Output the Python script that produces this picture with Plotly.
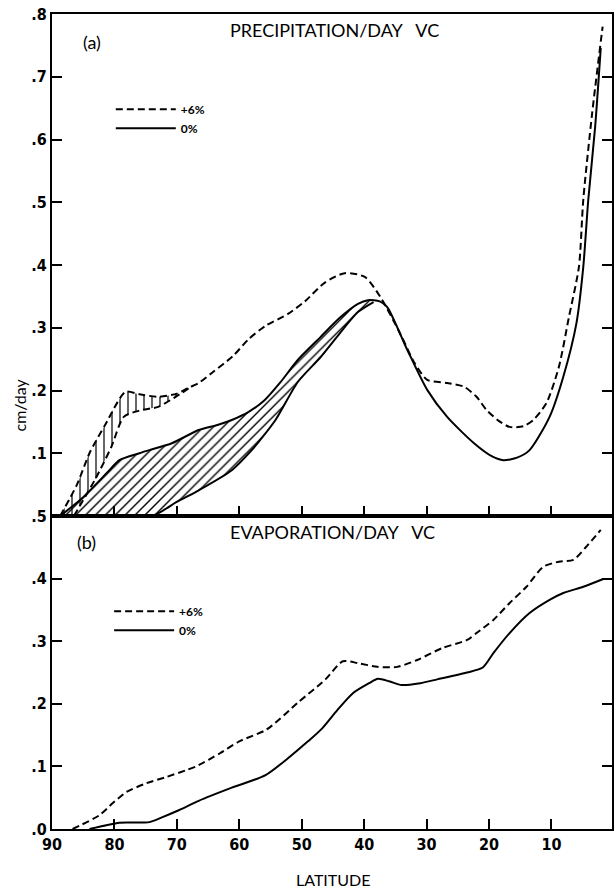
import plotly.graph_objects as go

# ---------------- Precipitation (cm/day) ----------------
P6_LAT = [88.7, 86, 84, 81.5, 78.2, 76, 73, 70, 68, 66.5, 64.4, 61, 58.5, 55.8, 52.2, 49.5,
          46.3, 43.1, 39.9, 37.4, 34.2, 32, 29.9, 26.7, 24, 22, 20.4, 18.5, 16.7, 14.5, 12.9,
          10.8, 8.8, 7.2, 5.6, 4.9, 3.5, 1.8]
P6_VAL = [0.0, 0.05, 0.10, 0.145, 0.198, 0.194, 0.19, 0.195, 0.205, 0.212, 0.228, 0.255, 0.282,
          0.303, 0.322, 0.342, 0.372, 0.387, 0.381, 0.349, 0.29, 0.245, 0.217, 0.212, 0.206,
          0.19, 0.169, 0.152, 0.142, 0.143, 0.153, 0.18, 0.238, 0.317, 0.397, 0.504, 0.64, 0.78]

# lower edge of the +6% range (vertical hatching)
P6_LOW_LAT = [86.5, 83, 80.5, 78.5, 76, 73, 70.5, 68]
P6_LOW_VAL = [0.0, 0.06, 0.11, 0.158, 0.168, 0.174, 0.188, 0.204]

P0_LAT = [88.7, 85, 80.8, 79.2, 76, 74.4, 70.8, 66.5, 63.5, 61.2, 58.5, 56, 53.5, 50.6, 47, 44,
          41, 39.4, 37.5, 36.3, 33.1, 29.9, 26.7, 22.4, 19.5, 17.7, 15.5, 13.5, 10.3, 8.1, 6.0,
          4.9, 4.1, 3, 2.1]
P0_VAL = [0.0, 0.03, 0.073, 0.089, 0.1, 0.105, 0.116, 0.137, 0.145, 0.153, 0.166, 0.184, 0.212,
          0.249, 0.285, 0.315, 0.338, 0.344, 0.342, 0.333, 0.265, 0.201, 0.158, 0.116, 0.095,
          0.089, 0.093, 0.105, 0.158, 0.222, 0.307, 0.397, 0.504, 0.62, 0.746]

# lower edge of the 0% range (diagonal hatching)
P0_LOW_LAT = [88.7, 74.1, 72, 70.1, 66.5, 61.2, 58, 56.9, 54.2, 50.6, 47, 44, 41, 38.5]
P0_LOW_VAL = [0.0, 0.0, 0.01, 0.022, 0.041, 0.073, 0.105, 0.118, 0.153, 0.214, 0.253, 0.29,
              0.325, 0.341]

# ---------------- Evaporation (cm/day) ----------------
E6_LAT = [86.7, 82.4, 80.3, 78.1, 74.9, 71.7, 68.5, 66.9, 63.1, 60, 55.6, 50.6, 46.2, 43.4, 41,
          37.9, 34.7, 31.5, 27.5, 23.5, 22, 19.3, 16.7, 14, 11.3, 8.8, 6.5, 4.5, 2.1]
E6_VAL = [0.0, 0.022, 0.041, 0.059, 0.073, 0.083, 0.094, 0.1, 0.121, 0.14, 0.159, 0.202, 0.239,
          0.268, 0.265, 0.259, 0.259, 0.27, 0.289, 0.302, 0.313, 0.334, 0.361, 0.387, 0.419,
          0.427, 0.43, 0.45, 0.478]

E0_LAT = [84, 81.3, 79.2, 74.4, 72.3, 69.7, 66.5, 61.2, 55.8, 52.2, 49, 46.8, 44.3, 41.8, 39.2,
          37.8, 36, 34, 31, 28.3, 23.5, 21, 19.3, 16.7, 13.5, 10.3, 8.1, 4.9, 1.8]
E0_VAL = [0.0, 0.006, 0.01, 0.011, 0.019, 0.03, 0.045, 0.066, 0.086, 0.113, 0.14, 0.16, 0.19,
          0.217, 0.233, 0.24, 0.236, 0.23, 0.233, 0.239, 0.25, 0.258, 0.281, 0.313, 0.345,
          0.366, 0.377, 0.387, 0.399]

X_TICKS = [90, 80, 70, 60, 50, 40, 30, 20, 10, 0]
X_TICK_TEXT = ["90", "80", "70", "60", "50", "40", "30", "20", "10", "0"]
YA_TICKS = [0.1, 0.2, 0.3, 0.4, 0.5, 0.6, 0.7, 0.8]
YA_TEXT = [".1", ".2", ".3", ".4", ".5", ".6", ".7", ".8"]
YB_TICKS = [0.0, 0.1, 0.2, 0.3, 0.4, 0.5]
YB_TEXT = [".0", ".1", ".2", ".3", ".4", ".5"]

W, H = 616, 892
ML, MR, MT, MB = 52, 2, 14, 63
DOM_SPLIT = 313 / 815
X_RANGE = [90, 0.3]

TICK_FONT = dict(family="Liberation Sans Narrow, DejaVu Sans Condensed, Arial Narrow, sans-serif",
                 size=16, color="black", weight="bold")
LABEL_FONT = dict(family="Lato, DejaVu Sans, sans-serif", size=18, color="black")
AXIS_TITLE_FONT = dict(family="Lato, DejaVu Sans, sans-serif", size=16, color="black")
LEG_FONT = dict(family="Lato, DejaVu Sans, sans-serif", size=12, color="black", weight="bold")
DASH = "7px,4px"
LW = 2
SPL = dict(shape="spline", smoothing=0.7)

fig = go.Figure()


def seg(lat, val, lo):
    """Part of a curve poleward of latitude `lo`."""
    pts = [(a, b) for a, b in zip(lat, val) if a >= lo]
    return [p[0] for p in pts], [p[1] for p in pts]


# --- panel (a): vertical hatching between the two +6% edges
ux, uy = seg(P6_LAT, P6_VAL, 66.5)
fig.add_trace(go.Scatter(x=ux, y=uy, mode="lines", line=dict(width=0, **SPL),
                         showlegend=False, hoverinfo="skip", xaxis="x", yaxis="y"))
fig.add_trace(go.Scatter(x=P6_LOW_LAT, y=P6_LOW_VAL, mode="lines",
                         line=dict(color="black", width=LW, dash=DASH, **SPL),
                         fill="tonexty", fillcolor="rgba(0,0,0,0)",
                         fillpattern=dict(shape="|", size=8, solidity=0.15, fgcolor="black",
                                          bgcolor="rgba(0,0,0,0)", fillmode="replace"),
                         showlegend=False, hoverinfo="skip", xaxis="x", yaxis="y"))

# --- panel (a): diagonal hatching between the two 0% edges
ux, uy = seg(P0_LAT, P0_VAL, 38.5)
fig.add_trace(go.Scatter(x=ux, y=uy, mode="lines", line=dict(width=0, **SPL),
                         showlegend=False, hoverinfo="skip", xaxis="x", yaxis="y"))
fig.add_trace(go.Scatter(x=P0_LOW_LAT, y=P0_LOW_VAL, mode="lines",
                         line=dict(color="black", width=LW, **SPL),
                         fill="tonexty", fillcolor="rgba(0,0,0,0)",
                         fillpattern=dict(shape="/", size=7, solidity=0.2, fgcolor="black",
                                          bgcolor="rgba(0,0,0,0)", fillmode="replace"),
                         showlegend=False, hoverinfo="skip", xaxis="x", yaxis="y"))

# --- panel (a) main curves
fig.add_trace(go.Scatter(x=P6_LAT, y=P6_VAL, mode="lines", name="+6%",
                         line=dict(color="black", width=LW, dash=DASH, **SPL),
                         legend="legend", xaxis="x", yaxis="y"))
fig.add_trace(go.Scatter(x=P0_LAT, y=P0_VAL, mode="lines", name="0%",
                         line=dict(color="black", width=LW, **SPL),
                         legend="legend", xaxis="x", yaxis="y"))

# --- panel (b)
fig.add_trace(go.Scatter(x=E6_LAT, y=E6_VAL, mode="lines", name="+6%",
                         line=dict(color="black", width=LW, dash=DASH, **SPL),
                         legend="legend2", xaxis="x2", yaxis="y2"))
fig.add_trace(go.Scatter(x=E0_LAT, y=E0_VAL, mode="lines", name="0%",
                         line=dict(color="black", width=LW, **SPL),
                         legend="legend2", xaxis="x2", yaxis="y2"))

axis_common = dict(showgrid=False, zeroline=False, showline=True, linecolor="black", linewidth=2,
                   ticks="inside", ticklen=10, tickwidth=1.5, tickcolor="black", tickfont=TICK_FONT)


def note(text, x, y, font=LABEL_FONT, **kw):
    return dict(text=text, x=x, y=y, xref="paper", yref="paper", showarrow=False,
                xanchor="center", yanchor="middle", font=font, **kw)


fig.update_layout(
    width=W, height=H,
    margin=dict(l=ML, r=MR, t=MT, b=MB),
    paper_bgcolor="white", plot_bgcolor="white",
    xaxis=dict(axis_common, domain=[0, 1], range=X_RANGE, anchor="y", tickvals=X_TICKS,
               showticklabels=False, mirror=True),
    yaxis=dict(axis_common, domain=[DOM_SPLIT, 1], range=[0, 0.8], anchor="x",
               tickvals=YA_TICKS, ticktext=YA_TEXT, mirror="ticks"),
    xaxis2=dict(axis_common, domain=[0, 1], range=X_RANGE, anchor="y2", tickvals=X_TICKS,
                ticktext=X_TICK_TEXT, mirror=True),
    yaxis2=dict(axis_common, domain=[0, DOM_SPLIT], range=[0, 0.5], anchor="x2",
                tickvals=YB_TICKS, ticktext=YB_TEXT, mirror="ticks"),
    legend=dict(x=0.105, y=0.901, xanchor="left", yanchor="top", bgcolor="rgba(0,0,0,0)",
                itemwidth=60, font=LEG_FONT, traceorder="normal", tracegroupgap=0),
    legend2=dict(x=0.102, y=0.285, xanchor="left", yanchor="top", bgcolor="rgba(0,0,0,0)",
                 itemwidth=60, font=LEG_FONT, traceorder="normal", tracegroupgap=0),
    annotations=[
        note("PRECIPITATION/DAY\u00a0\u00a0\u00a0VC", 0.505, 0.980),
        note("EVAPORATION/DAY\u00a0\u00a0\u00a0VC", 0.50, 0.364),
        note("(a)", 0.071, 0.966),
        note("(b)", 0.062, 0.352),
        note("cm/day", -0.0585, 0.52, font=AXIS_TITLE_FONT, textangle=-90),
        note("LATITUDE", 0.502, -0.0625, font=AXIS_TITLE_FONT),
    ],
)

fig.write_html("out.html")
